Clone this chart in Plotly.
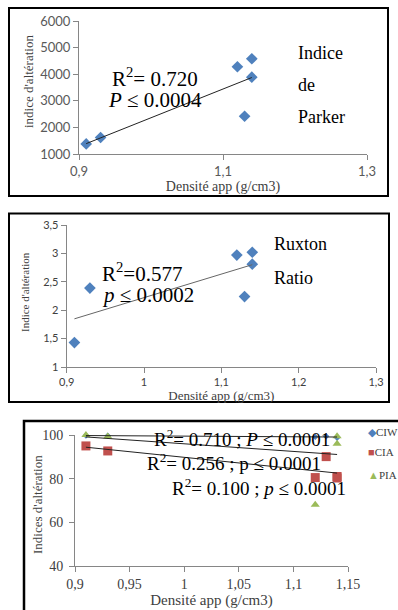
import numpy as np
import plotly.graph_objects as go

W, H = 398, 610

# ---------------- data ----------------
density = [0.91, 0.93, 1.12, 1.13, 1.14, 1.14]
parker = [1380, 1620, 4280, 2420, 4580, 3890]
ruxton = [1.43, 2.39, 2.97, 2.24, 3.02, 2.81]
ciw = [99.8, 99.6, 99.2, 99.4, 99.1, 98.7]
cia = [95.0, 92.7, 80.5, 90.1, 80.3, 81.0]
pia = [100.0, 99.3, 68.0, 100.2, 99.4, 96.0]

x1_ticks = [0.9, 1.1, 1.3]
x1_labels = ["0,9", "1,1", "1,3"]
y1_ticks = [1000, 2000, 3000, 4000, 5000, 6000]
y1_labels = ["1000", "2000", "3000", "4000", "5000", "6000"]

x2_ticks = [0.9, 1.0, 1.1, 1.2, 1.3]
x2_labels = ["0,9", "1", "1,1", "1,2", "1,3"]
y2_ticks = [1, 1.5, 2, 2.5, 3, 3.5]
y2_labels = ["1", "1,5", "2", "2,5", "3", "3,5"]

x3_ticks = [0.9, 0.95, 1.0, 1.05, 1.1, 1.15]
x3_labels = ["0,9", "0,95", "1", "1,05", "1,1", "1,15"]
y3_ticks = [40, 60, 80, 100]
y3_labels = ["40", "60", "80", "100"]

BLUE = "#4F81BD"
RED = "#C0504D"
GREEN = "#9BBB59"
SERIF = "Liberation Serif, Times New Roman, serif"
SANS = "Lato, Liberation Sans, sans-serif"


def px(x):
    return x / W


def py(y):
    return 1 - y / H


def trend(xv, yv):
    coef = np.polyfit(xv, yv, 1)
    xs = np.array([min(xv), max(xv)])
    return xs, np.polyval(coef, xs)


fig = go.Figure()

# panel 1 : Parker index
fig.add_trace(go.Scatter(x=density, y=parker, mode="markers", xaxis="x", yaxis="y",
                         marker=dict(symbol="diamond", size=9, color=BLUE), cliponaxis=False))
tx, ty = trend(density, parker)
fig.add_trace(go.Scatter(x=tx, y=ty, mode="lines", xaxis="x", yaxis="y",
                         line=dict(color="#222222", width=1)))

# panel 2 : Ruxton ratio
fig.add_trace(go.Scatter(x=density, y=ruxton, mode="markers", xaxis="x2", yaxis="y2",
                         marker=dict(symbol="diamond", size=9, color=BLUE), cliponaxis=False))
tx, ty = trend(density, ruxton)
fig.add_trace(go.Scatter(x=tx, y=ty, mode="lines", xaxis="x2", yaxis="y2",
                         line=dict(color="#666666", width=1)))

# panel 3 : CIW / CIA / PIA
for vals, sym, size, col, name in [(ciw, "diamond", 5, BLUE, "CIW"),
                                   (cia, "square", 9, RED, "CIA"),
                                   (pia, "triangle-up", 8, GREEN, "PIA")]:
    fig.add_trace(go.Scatter(x=density, y=vals, mode="markers", xaxis="x3", yaxis="y3", name=name,
                             marker=dict(symbol=sym, size=size, color=col), cliponaxis=False))
for vals in [ciw, pia, cia]:
    tx, ty = trend(density, vals)
    fig.add_trace(go.Scatter(x=tx, y=ty, mode="lines", xaxis="x3", yaxis="y3",
                             line=dict(color="#222222", width=1)))

axis_common = dict(showgrid=False, zeroline=False, showline=True, linecolor="#868686",
                   linewidth=1, ticks="outside", ticklen=5, tickcolor="#868686",
                   automargin=False, tickmode="array")

fig.update_layout(
    width=W, height=H, margin=dict(l=0, r=0, t=0, b=0),
    paper_bgcolor="white", plot_bgcolor="white", showlegend=False,
    xaxis=dict(**axis_common, anchor="y", domain=[px(79), px(367)], range=[0.9, 1.3],
               tickvals=x1_ticks, ticktext=x1_labels,
               tickfont=dict(family=SANS, size=13, color="#595959"),
               title=dict(text="Densité app (g/cm3)", standoff=0,
                          font=dict(family=SERIF, size=14, color="#404040"))),
    yaxis=dict(**axis_common, anchor="x", domain=[py(154), py(21)], range=[1000, 6000],
               tickvals=y1_ticks, ticktext=y1_labels,
               tickfont=dict(family=SANS, size=13, color="#595959")),
    xaxis2=dict(**axis_common, anchor="y2", domain=[px(66.7), px(376)], range=[0.9, 1.3],
                tickvals=x2_ticks, ticktext=x2_labels,
                tickfont=dict(family=SANS, size=11, color="#404040"),
                title=dict(text="Densité app (g/cm3)", standoff=0,
                           font=dict(family=SERIF, size=13, color="#404040"))),
    yaxis2=dict(**axis_common, anchor="x2", domain=[py(367), py(225)], range=[1, 3.5],
                tickvals=y2_ticks, ticktext=y2_labels,
                tickfont=dict(family=SANS, size=11, color="#404040")),
    xaxis3=dict(**axis_common, anchor="y3", domain=[px(75), px(348)], range=[0.9, 1.15],
                tickvals=x3_ticks, ticktext=x3_labels,
                tickfont=dict(family=SERIF, size=14, color="#404040"),
                title=dict(text="Densité app (g/cm3)", standoff=0,
                           font=dict(family=SERIF, size=15, color="#404040"))),
    yaxis3=dict(**axis_common, anchor="x3", domain=[py(566), py(435)], range=[40, 100],
                tickvals=y3_ticks, ticktext=y3_labels, ticklabelstandoff=3,
                tickfont=dict(family=SERIF, size=14, color="#404040")),
)

ann = []


def txt(text, x, y, size, xanchor="center", color="black", angle=0):
    ann.append(dict(text=text, x=px(x), y=py(y), xref="paper", yref="paper", showarrow=False,
                    xanchor=xanchor, yanchor="middle", textangle=angle,
                    font=dict(family=SERIF, size=size, color=color)))


# y-axis titles (placed close to the tick labels, as in the reference)
txt("indice d'altération", 28, 82, 13, color="#404040", angle=-90)
txt("Indice d'altération", 25, 292, 11, color="#404040", angle=-90)
txt("Indices d'altération", 37, 505, 13, color="#404040", angle=-90)

# panel 1 annotations
txt("R<sup>2</sup>= 0.720", 155, 78, 21)
txt("<i>P</i> ≤ 0.0004", 155, 100, 21)
txt("Indice", 296, 53, 18, "left")
txt("de", 296, 85, 18, "left")
txt("Parker", 296, 117, 18, "left")

# panel 2 annotations
txt("R<sup>2</sup>=0.577", 142, 272, 21)
txt("<i>p</i> ≤ 0.0002", 147.5, 295, 21)
txt("Ruxton", 272, 244, 18, "left")
txt("Ratio", 272, 278, 18, "left")

# panel 3 annotations
txt("R<sup>2</sup>= 0.710 ; <i>P</i> ≤ 0.0001", 241.5, 437.7, 19)
txt("R<sup>2</sup>= 0.256 ; p ≤ 0.0001", 234, 461.7, 19)
txt("R<sup>2</sup>= 0.100 ; <i>p</i> ≤ 0.0001", 259, 487.3, 19)

# panel 3 legend
for glyph, col, name, ly in [("◆", BLUE, "CIW", 432), ("■", RED, "CIA", 452), ("▲", GREEN, "PIA", 475)]:
    txt(f"<span style='color:{col}'>{glyph}</span>{name}", 366, ly, 11, "left", color="#404040")

fig.update_layout(annotations=ann)

# panel borders
fig.add_shape(type="rect", xref="paper", yref="paper", x0=px(9), x1=px(388), y0=py(196), y1=py(8),
              line=dict(color="black", width=2))
fig.add_shape(type="rect", xref="paper", yref="paper", x0=px(9), x1=px(389), y0=py(402), y1=py(213.5),
              line=dict(color="black", width=2))
fig.add_shape(type="rect", xref="paper", yref="paper", x0=px(24), x1=px(420), y0=py(630), y1=py(421),
              line=dict(color="black", width=2.5))

fig.write_html("out.html", config={"displayModeBar": False},
               post_script="document.body.style.margin='0';")
